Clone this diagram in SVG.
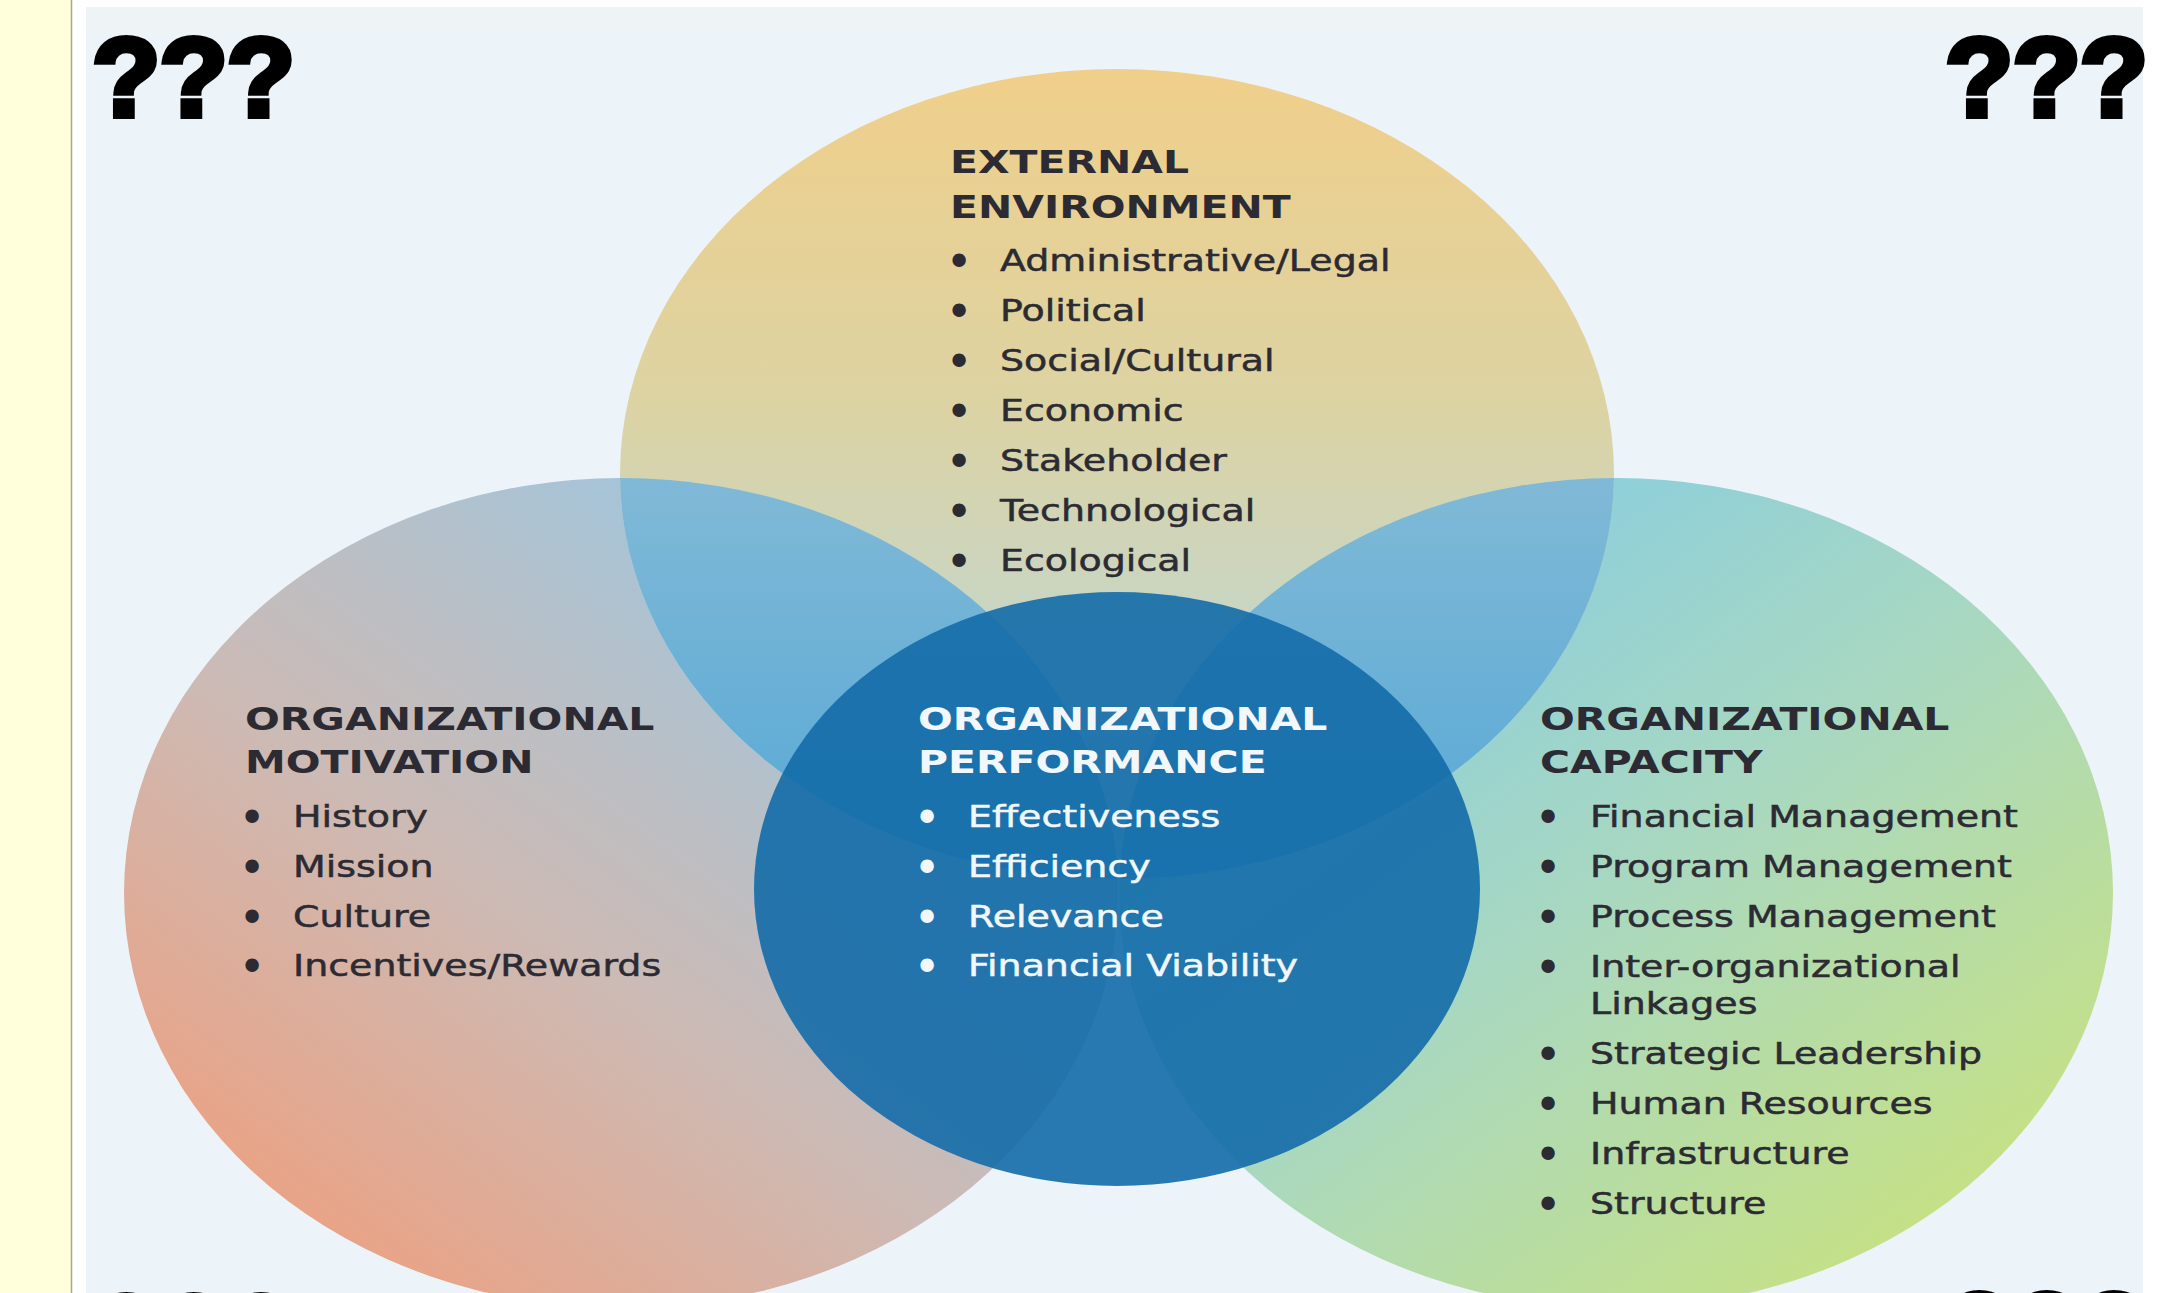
<svg xmlns="http://www.w3.org/2000/svg" width="2158" height="1293" viewBox="0 0 2158 1293">
<style>
.q{font-family:"Liberation Sans",Arial,sans-serif;font-weight:bold;font-size:112px;fill:#000;stroke:#000;stroke-width:6;letter-spacing:-1px}
.t{font-family:"DejaVu Sans",Verdana,sans-serif;font-weight:bold;font-size:32px;fill:#2c2b33}
.i{font-family:"DejaVu Sans",Verdana,sans-serif;font-size:30px;fill:#2c2b33;stroke:#2c2b33;stroke-width:0.5}
.b{font-family:"DejaVu Sans",Verdana,sans-serif;font-size:46px;fill:#2c2b33;text-anchor:middle}
.w .t,.w .i,.w .b{fill:#f2f7fb}
.w .i{stroke:#f2f7fb}
</style>
<defs>
<linearGradient id="gTop" x1="0" y1="0" x2="0" y2="1">
<stop offset="0" stop-color="#f0cf8a"/>
<stop offset="0.4" stop-color="#ddd3a2"/>
<stop offset="0.75" stop-color="#c3d6cc"/>
<stop offset="1" stop-color="#a9d3e6"/>
</linearGradient>
<linearGradient id="gLeft" x1="0.1" y1="0.95" x2="0.85" y2="0.1">
<stop offset="0" stop-color="#ef9e7c"/>
<stop offset="0.45" stop-color="#cdbab4"/>
<stop offset="1" stop-color="#98c8e4"/>
</linearGradient>
<linearGradient id="gRight" x1="0.15" y1="0.1" x2="0.85" y2="0.9">
<stop offset="0" stop-color="#84cce4"/>
<stop offset="0.5" stop-color="#a9d8c0"/>
<stop offset="1" stop-color="#c6e184"/>
</linearGradient>
<linearGradient id="gLens" gradientUnits="userSpaceOnUse" x1="0" y1="480" x2="0" y2="880">
<stop offset="0" stop-color="#80b9d6"/>
<stop offset="1" stop-color="#56a8d6"/>
</linearGradient>
<clipPath id="clipTop"><ellipse cx="1117" cy="474" rx="497" ry="405"/></clipPath>
</defs>

<rect x="0" y="0" width="2158" height="1293" fill="#ffffff"/>
<rect x="0" y="0" width="71" height="1293" fill="#ffffdc"/>
<line x1="71.5" y1="0" x2="71.5" y2="1293" stroke="#a9a98f" stroke-width="1.5"/>
<rect x="86" y="7" width="2057" height="1286" fill="#ecf4fa"/>
<rect x="86" y="7" width="2057" height="26" fill="#eef3f6"/>

<g id="circles">
<ellipse cx="621" cy="893" rx="497" ry="415" fill="url(#gLeft)"/>
<ellipse cx="1616" cy="893" rx="497" ry="415" fill="url(#gRight)"/>
<ellipse cx="1117" cy="474" rx="497" ry="405" fill="url(#gTop)"/>
<g clip-path="url(#clipTop)">
<ellipse cx="621" cy="893" rx="497" ry="415" fill="url(#gLens)"/>
<ellipse cx="1616" cy="893" rx="497" ry="415" fill="url(#gLens)"/>
</g>
<ellipse cx="1117" cy="889" rx="363" ry="297" fill="#136ca8" fill-opacity="0.9"/>
</g>

<g id="connectors"></g>

<g id="external-environment">
<g transform="translate(950,0) scale(1.28,1)">
<text class="t" x="0" y="173">EXTERNAL</text>
<text class="t" x="0" y="218">ENVIRONMENT</text>
</g>
<text class="b" x="959" y="278">•</text>
<text class="b" x="959" y="328">•</text>
<text class="b" x="959" y="378">•</text>
<text class="b" x="959" y="428">•</text>
<text class="b" x="959" y="478">•</text>
<text class="b" x="959" y="528">•</text>
<text class="b" x="959" y="578">•</text>
<g transform="translate(1000,0) scale(1.265,1)">
<text class="i" x="0" y="271">Administrative/Legal</text>
<text class="i" x="0" y="321">Political</text>
<text class="i" x="0" y="371">Social/Cultural</text>
<text class="i" x="0" y="421">Economic</text>
<text class="i" x="0" y="471">Stakeholder</text>
<text class="i" x="0" y="521">Technological</text>
<text class="i" x="0" y="571">Ecological</text>
</g>
</g>

<g id="organizational-motivation">
<g transform="translate(245,0) scale(1.28,1)">
<text class="t" x="0" y="730">ORGANIZATIONAL</text>
<text class="t" x="0" y="773">MOTIVATION</text>
</g>
<text class="b" x="252" y="834">•</text>
<text class="b" x="252" y="884">•</text>
<text class="b" x="252" y="934">•</text>
<text class="b" x="252" y="983">•</text>
<g transform="translate(293,0) scale(1.265,1)">
<text class="i" x="0" y="827">History</text>
<text class="i" x="0" y="877">Mission</text>
<text class="i" x="0" y="927">Culture</text>
<text class="i" x="0" y="976">Incentives/Rewards</text>
</g>
</g>

<g id="organizational-performance" class="w">
<g transform="translate(918,0) scale(1.28,1)">
<text class="t" x="0" y="730">ORGANIZATIONAL</text>
<text class="t" x="0" y="773">PERFORMANCE</text>
</g>
<text class="b" x="927" y="834">•</text>
<text class="b" x="927" y="884">•</text>
<text class="b" x="927" y="934">•</text>
<text class="b" x="927" y="983">•</text>
<g transform="translate(968,0) scale(1.265,1)">
<text class="i" x="0" y="827">Effectiveness</text>
<text class="i" x="0" y="877">Efficiency</text>
<text class="i" x="0" y="927">Relevance</text>
<text class="i" x="0" y="976">Financial Viability</text>
</g>
</g>

<g id="organizational-capacity">
<g transform="translate(1540,0) scale(1.28,1)">
<text class="t" x="0" y="730">ORGANIZATIONAL</text>
<text class="t" x="0" y="773">CAPACITY</text>
</g>
<text class="b" x="1548" y="834">•</text>
<text class="b" x="1548" y="884">•</text>
<text class="b" x="1548" y="934">•</text>
<text class="b" x="1548" y="984">•</text>
<text class="b" x="1548" y="1071">•</text>
<text class="b" x="1548" y="1121">•</text>
<text class="b" x="1548" y="1171">•</text>
<text class="b" x="1548" y="1221">•</text>
<g transform="translate(1590,0) scale(1.265,1)">
<text class="i" x="0" y="827">Financial Management</text>
<text class="i" x="0" y="877">Program Management</text>
<text class="i" x="0" y="927">Process Management</text>
<text class="i" x="0" y="977">Inter-organizational</text>
<text class="i" x="0" y="1014">Linkages</text>
<text class="i" x="0" y="1064">Strategic Leadership</text>
<text class="i" x="0" y="1114">Human Resources</text>
<text class="i" x="0" y="1164">Infrastructure</text>
<text class="i" x="0" y="1214">Structure</text>
</g>
</g>

<g id="marks">
<text class="q" x="92" y="116">???</text>
<text class="q" x="1945" y="116">???</text>
<text class="q" x="92" y="1373">???</text>
<text class="q" x="1945" y="1371">???</text>
</g>
</svg>
